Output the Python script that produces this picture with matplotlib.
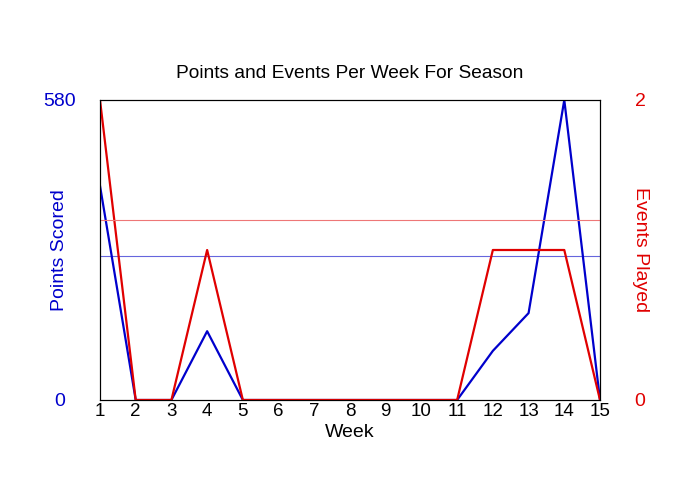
import matplotlib.pyplot as plt
import numpy as np

plt.rcParams['font.family'] = ['Liberation Sans', 'DejaVu Sans']

weeks = list(range(1, 16))
points = [414, 0, 0, 133, 0, 0, 0, 0, 0, 0, 0, 95, 168, 580, 0]
events = [2, 0, 0, 1, 0, 0, 0, 0, 0, 0, 0, 1, 1, 1, 0]

# averages over weeks that were actually played
played = [i for i, e in enumerate(events) if e > 0]
avg_points = np.mean([points[i] for i in played])
avg_events = np.mean([events[i] for i in played])

fig = plt.figure(figsize=(7, 5), dpi=100)
ax = fig.add_axes([100/700, 100/500, 500/700, 300/500])
ax2 = ax.twinx()

ax.plot(weeks, points, color='#0000cc', linewidth=1.6, zorder=3)
ax.axhline(avg_points, color='#6666dd', linewidth=0.8)
ax2.plot(weeks, events, color='#e00000', linewidth=1.6)
ax2.axhline(avg_events, color='#ee7777', linewidth=0.8)

ax.set_xlim(1, 15)
ax.set_ylim(0, 580)
ax2.set_ylim(0, 2)
ax.set_xticks(weeks)
ax.set_xticklabels([str(w) for w in weeks], fontsize=13.5)
ax.set_yticks([0, 580])
ax.set_yticklabels(['0', '580'], fontsize=14, color='#0000cc', ha='center')
ax2.set_yticks([0, 2])
ax2.set_yticklabels(['0', '2'], fontsize=14, color='#e00000', ha='center')
ax.tick_params(axis='both', length=0)
ax.tick_params(axis='y', pad=28.8)
ax.tick_params(axis='x', pad=2)
ax2.tick_params(axis='y', length=0, pad=28.8)

ax.set_xlabel('Week', fontsize=14, labelpad=3)
ax.set_ylabel('Points Scored', fontsize=14, color='#0000cc', va='center')
ax.yaxis.set_label_coords(-0.08, 0.5)
ax2.set_ylabel('Events Played', fontsize=14, color='#e00000', rotation=270, va='center')
ax2.yaxis.set_label_coords(1.08, 0.5)
ax.set_title('Points and Events Per Week For Season', fontsize=13.8, pad=16)

for a in (ax, ax2):
    for s in a.spines.values():
        s.set_linewidth(0.8)

fig.savefig('out.png')
